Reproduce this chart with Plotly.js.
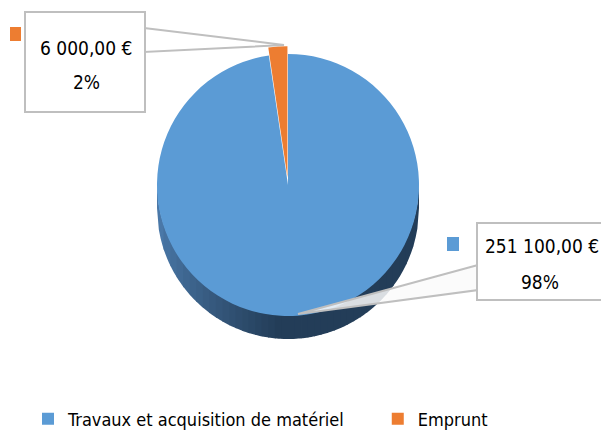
<!DOCTYPE html>
<html>
<head>
<meta charset="utf-8">
<script src="https://cdn.plot.ly/plotly-3.0.1.min.js"></script>
<style>html,body{margin:0;padding:0;background:#fff;}#chart{width:601px;height:432px;}</style>
</head>
<body>
<div id="chart"></div>
<script>
const categories = ["Travaux et acquisition de matériel", "Emprunt"];
const values = [251100, 6000];
const valueLabels = ["251 100,00 €", "6 000,00 €"];
const percentLabels = ["98%", "2%"];
const colors = ["#5B9BD5", "#ED7D31"];

const W = 601, H = 432;
const px = x => x / W;
const py = y => 1 - y / H;
const FONT = "DejaVu Sans Condensed, Liberation Sans Narrow, Arial Narrow, sans-serif";

// pie geometry (pixels)
const cx = 288, cy = 185, pull = 0.06, R = 131, depth = 23;
const half = R * (1 + pull);

const trace = {
  type: "pie",
  labels: categories,
  values: values,
  sort: false,
  direction: "clockwise",
  rotation: 0,
  pull: [0, pull],
  marker: {colors: colors, line: {width: 0}},
  textinfo: "none",
  hoverinfo: "label+value+percent",
  domain: {x: [px(cx - half), px(cx + half)], y: [py(cy + half), py(cy - half)]}
};

const gray = "#BFBFBF";

// 3D side of the pie: vertical bands with a left-to-right shading
function sideBands() {
  const out = [];
  const n = 40;
  const light = [74, 120, 168], dark = [35, 61, 88];
  for (let i = 0; i < n; i++) {
    const xa = cx - R + (2 * R) * i / n;
    const xb = Math.min(cx + R, cx - R + (2 * R) * (i + 1) / n + 0.8);
    const t = Math.min(1, (xa - (cx - R)) / (R * 0.9));
    const c = light.map((v, k) => Math.round(v + (dark[k] - v) * Math.pow(t, 0.8)));
    const pts = [];
    const steps = 4;
    for (let s = 0; s <= steps; s++) {
      const x = xa + (xb - xa) * s / steps;
      const dx = Math.max(0, R * R - (x - cx) * (x - cx));
      pts.push([x, cy + depth + Math.sqrt(dx)]);
    }
    for (let s = steps; s >= 0; s--) {
      const x = xa + (xb - xa) * s / steps;
      const dx = Math.max(0, R * R - (x - cx) * (x - cx));
      pts.push([x, cy + Math.sqrt(dx) - 2]);
    }
    const path = "M " + pts.map(p => px(p[0]) + " " + py(p[1])).join(" L ") + " Z";
    out.push({type: "path", xref: "paper", yref: "paper", layer: "below", path: path,
      fillcolor: `rgb(${c[0]},${c[1]},${c[2]})`, line: {width: 0}});
  }
  return out;
}

const shapes = sideBands().concat([
  // callout 1 leader
  {type: "path", xref: "paper", yref: "paper", layer: "above",
   path: `M ${px(144)} ${py(28)} L ${px(284)} ${py(45)} L ${px(144)} ${py(52)} Z`,
   fillcolor: "rgba(255,255,255,0.7)", line: {color: gray, width: 2}},
  // callout 1 box
  {type: "rect", xref: "paper", yref: "paper", layer: "above",
   x0: px(25), x1: px(145), y0: py(112), y1: py(12),
   fillcolor: "#FFFFFF", line: {color: gray, width: 2}},
  {type: "rect", xref: "paper", yref: "paper", layer: "above",
   x0: px(10), x1: px(21), y0: py(41), y1: py(27),
   fillcolor: colors[1], line: {width: 0}},
  // callout 2 leader
  {type: "path", xref: "paper", yref: "paper", layer: "above",
   path: `M ${px(478)} ${py(265)} L ${px(298)} ${py(314)} L ${px(478)} ${py(290)} Z`,
   fillcolor: "rgba(250,250,250,0.85)", line: {color: gray, width: 2}},
  // callout 2 box
  {type: "rect", xref: "paper", yref: "paper", layer: "above",
   x0: px(477), x1: px(603), y0: py(300), y1: py(223),
   fillcolor: "#FFFFFF", line: {color: gray, width: 2}},
  {type: "rect", xref: "paper", yref: "paper", layer: "above",
   x0: px(447), x1: px(459), y0: py(251), y1: py(237),
   fillcolor: colors[0], line: {width: 0}}
]);

const ann = (x, y, t) => ({xref: "paper", yref: "paper", x: px(x), y: py(y), text: t,
  showarrow: false, xanchor: "center", yanchor: "middle",
  font: {family: FONT, size: 19, color: "#000"}});

const annotations = [
  ann(86, 48, valueLabels[1]),
  ann(86, 82, percentLabels[1]),
  ann(542, 246, valueLabels[0]),
  ann(540, 282, percentLabels[0])
];

const layout = {
  width: W, height: H,
  margin: {l: 0, r: 0, t: 0, b: 0, autoexpand: false},
  paper_bgcolor: "#FFFFFF",
  showlegend: true,
  legend: {orientation: "h", x: 0, xanchor: "left", y: py(419), yanchor: "middle",
    indentation: 28, traceorder: "normal",
    font: {family: FONT, size: 18, color: "#000"}},
  shapes: shapes,
  annotations: annotations
};

Plotly.newPlot("chart", [trace], layout, {displayModeBar: false, staticPlot: true});
</script>
</body>
</html>
